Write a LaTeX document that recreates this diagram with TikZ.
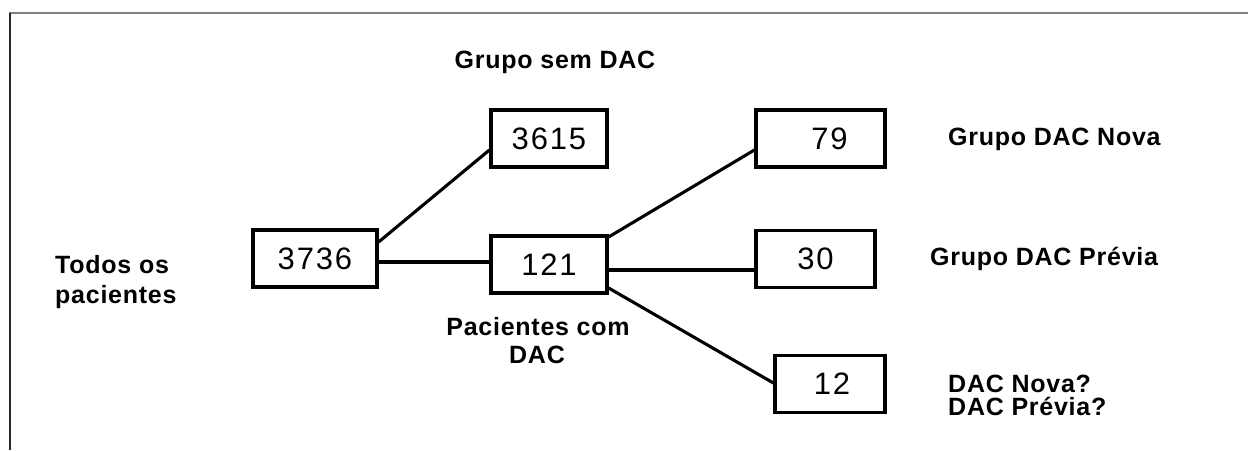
\documentclass[tikz,border=0pt]{standalone}
\usepackage{fontspec}
\setmainfont{Liberation Sans}
\newfontfamily\numfont[LetterSpace=6]{Liberation Sans}
\newfontfamily\lblfont[LetterSpace=3]{Liberation Sans Bold}
\begin{document}
\begin{tikzpicture}[x=1pt,y=-1pt,
  numbox/.style={draw=black,line width=3.2pt,inner sep=0pt,minimum height=57pt,
    font=\numfont\fontsize{31}{33}\selectfont},
  conn/.style={draw=black,line width=3.1pt},
  lbl/.style={inner sep=0pt,font=\lblfont\fontsize{25}{28}\selectfont}]
\useasboundingbox (0,0) rectangle (1248,450);
% frame lines
\draw[line width=1.8pt,color=black!50] (9,13) -- (1248,13);
\draw[line width=2pt,color=black!85] (9.5,12.5) -- (9.5,450);
% boxes
\node[numbox,minimum width=124pt] (a) at (315,258.5) {3736};
\node[numbox,minimum width=116pt] (s) at (549,138.5) {3615};
\node[numbox,minimum width=116pt] (b) at (549,264.5) {121};
\node[numbox,minimum width=129pt] (n) at (820.5,138.5) {\hspace{18pt}79};
\node[numbox,minimum width=119pt] (p) at (815.5,259) {30};
\node[numbox,minimum width=110pt] (q) at (830,384) {\hspace{4pt}12};
% connectors
\draw[conn] ([yshift=16.5pt]a.east) -- ([yshift=-11.5pt]s.west);
\draw[conn] ([yshift=-3.5pt]a.east) -- ([yshift=2.5pt]b.west);
\draw[conn] ([yshift=27.5pt]b.east) -- ([yshift=-11.5pt]n.west);
\draw[conn] ([yshift=-5.5pt]b.east) -- ([yshift=-11pt]p.west);
\draw[conn] ([yshift=-23.5pt]b.east) -- ([yshift=1pt]q.west);
% labels
\node[lbl,anchor=base west] (t1) at (55,273) {Todos os};
\node[lbl,anchor=base west] (t2) at (55,303) {pacientes};
\node[lbl,anchor=base] (g1) at (555,68) {Grupo sem DAC};
\node[lbl,anchor=base] (c1) at (538,335) {Pacientes com};
\node[lbl,anchor=base] (c2) at (537,363) {DAC};
\node[lbl,anchor=base west] (g2) at (948,145) {Grupo DAC Nova};
\node[lbl,anchor=base west] (g3) at (930,265) {Grupo DAC Prévia};
\node[lbl,anchor=base west] (d1) at (948,392) {DAC Nova?};
\node[lbl,anchor=base west] (d2) at (948,415) {DAC Prévia?};
\end{tikzpicture}
\end{document}
